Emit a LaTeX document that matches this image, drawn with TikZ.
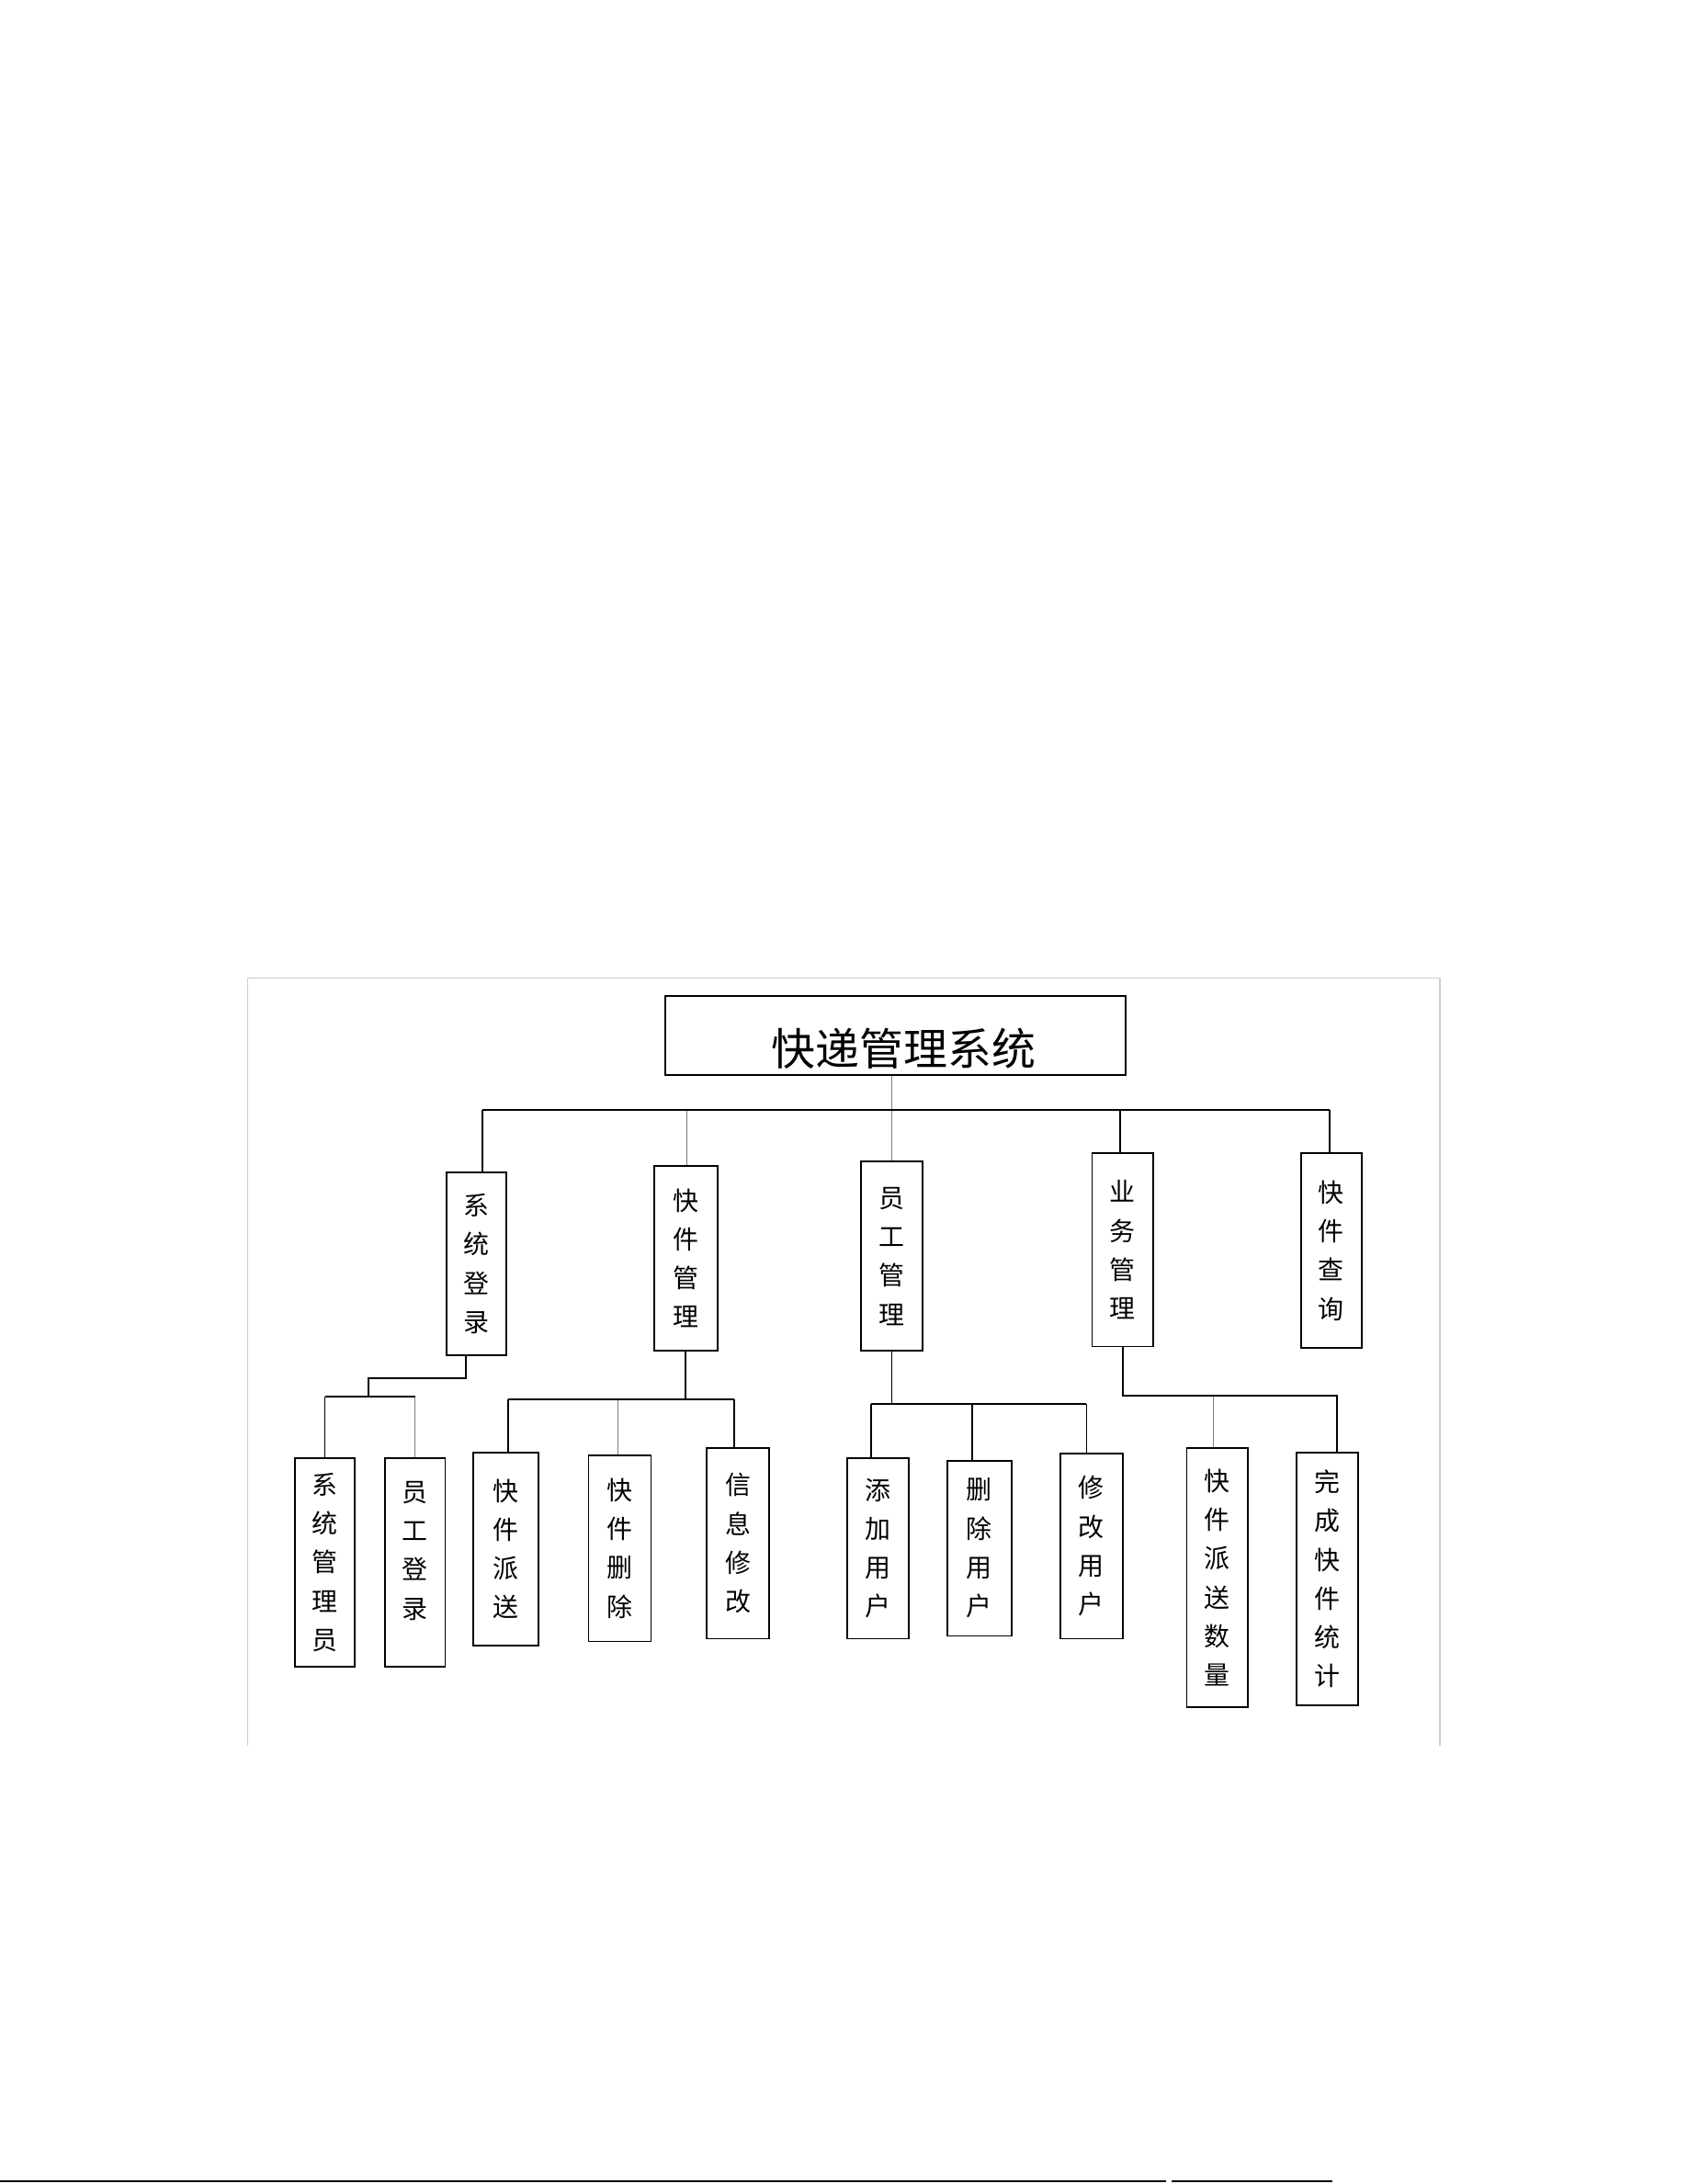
\documentclass[tikz,border=0pt]{standalone}
\usepackage{fontspec}
\newfontfamily\cjk{Noto Sans CJK SC}

\begin{document}
\begin{tikzpicture}[x=0.02cm,y=-0.02cm,
    link/.style={line width=0.7pt},
    thin link/.style={line width=0.4pt,gray},
    box size/.style 2 args={minimum width=#1cm,minimum height=#2cm},
    main node/.style={draw,line width=0.7pt,inner sep=0pt,font=\cjk\fontsize{18pt}{18pt}\selectfont},
    small node/.style={draw,line width=0.7pt,align=center,inner sep=0pt,font=\cjk\fontsize{10.5pt}{15.9pt}\selectfont}]
  \useasboundingbox (0,0) rectangle (1213.3,1570);
  % frame of the scanned figure
  \draw[gray!40,line width=0.5pt] (178,1255) -- (178,703) -- (1035,703) -- (1035,1255);
  \node[main node,box size={6.62}{1.14}] (a) at (643.5,744.5) {\hspace{0.24cm}\raisebox{-0.43cm}[0pt][0pt]{快递管理系统}};
  % first level
  \node[small node,box size={0.86}{2.62}] (b) at (342.5,908.5) {系\\统\\登\\录};
  \node[small node,box size={0.92}{2.66}] (c) at (493,904.5) {快\\件\\管\\理};
  \node[small node,box size={0.88}{2.72}] (d) at (641,903) {员\\工\\管\\理};
  \node[small node,box size={0.88}{2.78}] (e) at (807,898.5) {业\\务\\管\\理};
  \node[small node,box size={0.88}{2.80}] (f) at (957,899) {快\\件\\查\\询};
  % second level
  \node[small node,box size={0.86}{3.00}] (g) at (233.5,1123) {系\\统\\管\\理\\员};
  \node[small node,box size={0.86}{3.00},text depth=0.36cm] (h) at (298.5,1123) {员\\工\\登\\录};
  \node[small node,box size={0.94}{2.78}] (i) at (363.5,1113.5) {快\\件\\派\\送};
  \node[small node,box size={0.90}{2.68}] (j) at (445.5,1113) {快\\件\\删\\除};
  \node[small node,box size={0.90}{2.74}] (k) at (530.5,1109.5) {信\\息\\修\\改};
  \node[small node,box size={0.88}{2.60}] (l) at (631,1113) {添\\加\\用\\户};
  \node[small node,box size={0.92}{2.52}] (m) at (704,1113) {删\\除\\用\\户};
  \node[small node,box size={0.90}{2.66}] (n) at (784.5,1111.5) {修\\改\\用\\户};
  \node[small node,box size={0.88}{3.72}] (o) at (875,1134) {快\\件\\派\\送\\数\\量};
  \node[small node,box size={0.88}{3.64}] (p) at (954,1135) {完\\成\\快\\件\\统\\计};
  % top bus
  \coordinate (tb) at (347,798);
  \coordinate (tc) at (494,798);
  \coordinate (te) at (805,798);
  \coordinate (tf) at (956,798);
  \draw[thin link] (a.south -| d.north) -- (d.north);
  \draw[thin link] (tc) -- (tc |- c.north);
  \draw[link] (tb) -- (tf);
  \draw[link] (tb) -- (tb |- b.north);
  \draw[link] (te) -- (te |- e.north);
  \draw[link] (tf) -- (tf |- f.north);
  % under b
  \coordinate (s1) at (335,991);
  \coordinate (s2) at (265,991);
  \coordinate (s3) at (265,1004);
  \draw[link] (s1 |- b.south) -- (s1) -- (s2) -- (s3);
  \draw[thin link] (h.north |- s3) -- (h.north);
  \draw[link] (g.north |- s3) -- (h.north |- s3);
  \draw[link] (g.north |- s3) -- (g.north);
  % under c
  \coordinate (k1) at (365,1006);
  \coordinate (k2) at (444,1006);
  \coordinate (k3) at (528,1006);
  \draw[link] (c.south) -- (c.south |- k1);
  \draw[thin link] (k2) -- (k2 |- j.north);
  \draw[link] (k1) -- (k3);
  \draw[link] (k1) -- (k1 |- i.north);
  \draw[link] (k3) -- (k3 |- k.north);
  % under d
  \coordinate (y1) at (626,1009);
  \coordinate (y2) at (699,1009);
  \coordinate (y3) at (781,1009);
  \draw[link] (d.south) -- (d.south |- y1);
  \draw[link] (y1) -- (y3);
  \draw[link] (y1) -- (y1 |- l.north);
  \draw[link] (y2) -- (y2 |- m.north);
  \draw[link] (y3) -- (y3 |- n.north);
  % under e
  \coordinate (w1) at (872,1003);
  \coordinate (w2) at (961,1003);
  \draw[thin link] (w1) -- (w1 |- o.north);
  \draw[link] (e.south) |- (w2) -- (w2 |- p.north);
  % page rule at the bottom
  \draw[line width=0.8pt] (0,1568) -- (838,1568);
  \draw[line width=0.8pt] (842,1568) -- (958,1568);
\end{tikzpicture}
\end{document}
